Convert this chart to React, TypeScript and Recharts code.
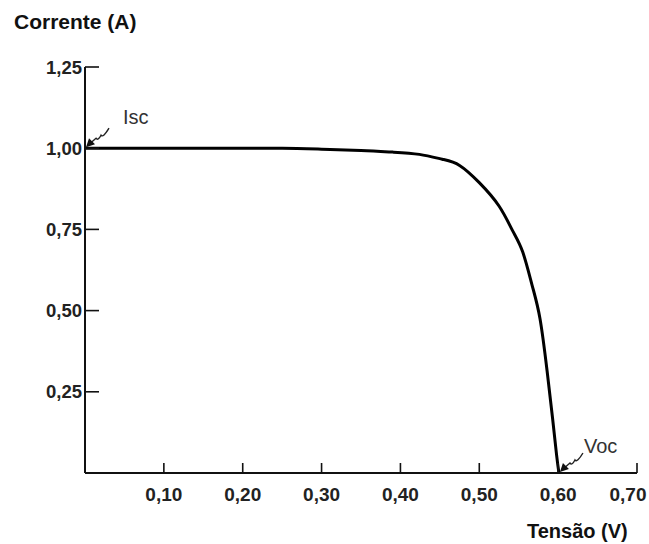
import { Line, LineChart, ReferenceDot, XAxis, YAxis } from "recharts";

const voltage = [0, 0.05, 0.1, 0.15, 0.2, 0.25, 0.3, 0.35, 0.39, 0.424, 0.453, 0.475, 0.5, 0.525, 0.542, 0.555, 0.567, 0.577, 0.586, 0.593, 0.598, 0.601];
const current = [1.0, 1.0, 1.0, 1.0, 1.0, 1.0, 0.997, 0.993, 0.988, 0.981, 0.966, 0.947, 0.894, 0.822, 0.747, 0.681, 0.578, 0.475, 0.314, 0.167, 0.056, 0];

const xTicks = [0, 0.1, 0.2, 0.3, 0.4, 0.5, 0.6, 0.7];
const yTicks = [0, 0.25, 0.5, 0.75, 1.0, 1.25];

const data = voltage.map((v, i) => ({ v, i: current[i] }));

const FONT = "'Liberation Sans', Arial, sans-serif";
const fmt = (n: number) => n.toFixed(2).replace(".", ",");

function YTick({ x, y, payload }: any) {
  if (payload.value === 0) return null;
  return (
    <g>
      <line x1={x} y1={y} x2={x + 14} y2={y} stroke="#111" strokeWidth={1.6} />
      <text x={x - 3} y={y} dy="0.36em" textAnchor="end" fontFamily={FONT} fontWeight="bold" fontSize={18.5} fill="#222">
        {fmt(payload.value)}
      </text>
    </g>
  );
}

function XTick({ x, y, payload }: any) {
  if (payload.value === 0) return null;
  return (
    <g>
      <line x1={x} y1={y} x2={x} y2={y - 10} stroke="#111" strokeWidth={1.6} />
      <text x={Math.min(x, 628)} y={y + 21} dy="0.36em" textAnchor="middle" fontFamily={FONT} fontWeight="bold" fontSize={19} fill="#222">
        {fmt(payload.value)}
      </text>
    </g>
  );
}

// little hand-drawn squiggle arrow with its label
function Pointer({ cx, cy, text, tx, ty }: any) {
  if (cx == null || cy == null) return null;
  return (
    <g>
      <path
        d={`M ${cx + 3} ${cy - 3} L ${cx + 11} ${cy - 10} Q ${cx + 13} ${cy - 7} ${cx + 16} ${cy - 13} Q ${cx + 18} ${cy - 10} ${cx + 24} ${cy - 20}`}
        fill="none"
        stroke="#222"
        strokeWidth={1.4}
      />
      <path d={`M ${cx + 1} ${cy - 1} L ${cx + 10} ${cy - 4} L ${cx + 4} ${cy - 10} Z`} fill="#111" />
      <text x={cx + tx} y={cy + ty} fontFamily={FONT} fontSize={20} fill="#333">
        {text}
      </text>
    </g>
  );
}

export default function App() {
  return (
    <div style={{ position: "absolute", left: 0, top: 0, width: 649, height: 544, background: "#fff" }}>
      <LineChart width={649} height={544} data={data} margin={{ top: 67, right: 12, bottom: 41, left: 0 }}>
        <XAxis
          dataKey="v"
          type="number"
          domain={[0, 0.7]}
          ticks={xTicks}
          height={30}
          tickSize={0}
          tickMargin={0}
          tick={<XTick />}
          axisLine={{ stroke: "#111", strokeWidth: 2 }}
          interval={0}
        />
        <YAxis
          type="number"
          domain={[0, 1.25]}
          ticks={yTicks}
          width={85}
          tickSize={0}
          tickMargin={0}
          tick={<YTick />}
          axisLine={{ stroke: "#111", strokeWidth: 2 }}
          interval={0}
        />
        <Line dataKey="i" type="natural" stroke="#000" strokeWidth={3} dot={false} isAnimationActive={false} />
        <ReferenceDot x={0} y={1.0} r={0} shape={(p: any) => <Pointer {...p} text="Isc" tx={38} ty={-24} />} />
        <ReferenceDot x={0.601} y={0} r={0} shape={(p: any) => <Pointer {...p} text="Voc" tx={25} ty={-20} />} />
      </LineChart>
      <div style={{ position: "absolute", left: 14, top: 10, fontFamily: FONT, fontWeight: "bold", fontSize: 21, color: "#111" }}>
        Corrente (A)
      </div>
      <div style={{ position: "absolute", left: 527, top: 520, fontFamily: FONT, fontWeight: "bold", fontSize: 20, color: "#111" }}>
        Tensão (V)
      </div>
    </div>
  );
}
